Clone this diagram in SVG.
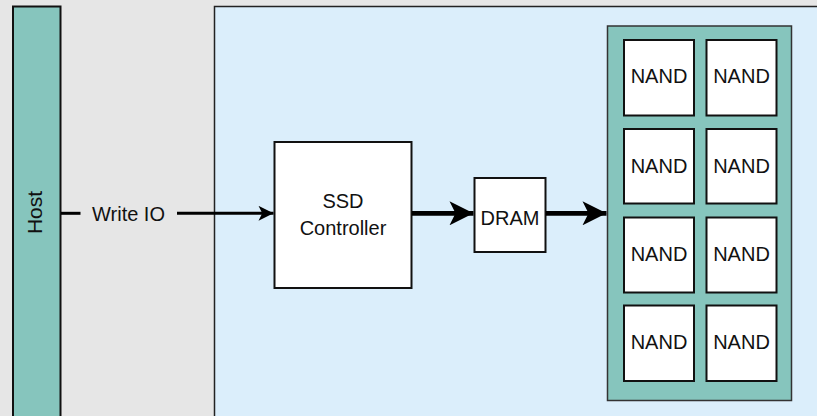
<svg xmlns="http://www.w3.org/2000/svg" width="817" height="416" viewBox="0 0 817 416">
<defs>
<style>
text{font-family:"Liberation Sans",Arial,sans-serif;font-size:20px;fill:#111;text-anchor:middle}
.box{fill:#fff;stroke:#111;stroke-width:2}
.nand{fill:#fff;stroke:#111;stroke-width:2}
</style>
<marker id="ah" viewBox="0 0 10 10" refX="10" refY="5" markerWidth="5.5" markerHeight="5" orient="auto" markerUnits="strokeWidth"><path d="M0,0 L10,5 L0,10 L2.5,5 Z" fill="#000"/></marker>
<marker id="ahb" viewBox="0 0 10 10" refX="10" refY="5" markerWidth="5.2" markerHeight="5" orient="auto" markerUnits="strokeWidth"><path d="M0,0 L10,5 L0,10 L2.5,5 Z" fill="#000"/></marker>
</defs>
<rect x="0" y="0" width="817" height="416" fill="#e6e6e6"/>
<g id="ssd-panel"><rect x="214.5" y="6.5" width="610" height="420" fill="#dbeefb" stroke="#222" stroke-width="1.5"/></g>
<g id="host"><rect x="13" y="6.5" width="47.5" height="420" fill="#86c5bd" stroke="#111" stroke-width="2"/>
<text transform="translate(42.3,212.5) rotate(-90)" style="font-size:21px">Host</text></g>
<g id="controller"><rect class="box" x="274.5" y="142" width="137" height="146"/><text x="343" y="207.5">SSD</text><text x="343" y="234.5">Controller</text></g>
<g id="dram"><rect class="box" x="474.5" y="178" width="71" height="74"/><text x="510" y="225">DRAM</text></g>
<g id="nand-array"><rect x="607.5" y="26" width="184" height="374.5" fill="#86c5bd" stroke="#333" stroke-width="1.5"/>
<g id="nand1"><rect class="nand" x="624" y="40" width="70" height="75.5"/><text x="659" y="83">NAND</text></g>
<g id="nand2"><rect class="nand" x="706.5" y="40" width="70" height="75.5"/><text x="741.5" y="83">NAND</text></g>
<g id="nand3"><rect class="nand" x="624" y="129" width="70" height="74.5"/><text x="659" y="172.5">NAND</text></g>
<g id="nand4"><rect class="nand" x="706.5" y="129" width="70" height="74.5"/><text x="741.5" y="172.5">NAND</text></g>
<g id="nand5"><rect class="nand" x="624" y="217.5" width="70" height="75"/><text x="659" y="261">NAND</text></g>
<g id="nand6"><rect class="nand" x="706.5" y="217.5" width="70" height="75"/><text x="741.5" y="261">NAND</text></g>
<g id="nand7"><rect class="nand" x="624" y="305.5" width="70" height="75.5"/><text x="659" y="349">NAND</text></g>
<g id="nand8"><rect class="nand" x="706.5" y="305.5" width="70" height="75.5"/><text x="741.5" y="349">NAND</text></g>
</g>
<g id="connectors">
<line x1="61" y1="213.3" x2="80.5" y2="213.3" stroke="#000" stroke-width="3"/>
<line x1="177" y1="213.3" x2="273.5" y2="213.3" stroke="#000" stroke-width="3" marker-end="url(#ah)"/>
<text x="128.5" y="221">Write IO</text>
<line x1="412" y1="213.3" x2="473.5" y2="213.3" stroke="#000" stroke-width="4.8" marker-end="url(#ahb)"/>
<line x1="546" y1="213.3" x2="606.5" y2="213.3" stroke="#000" stroke-width="4.8" marker-end="url(#ahb)"/>
</g>
</svg>
